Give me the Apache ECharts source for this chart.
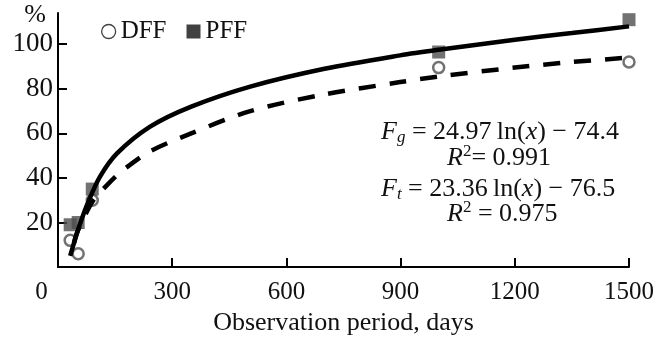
<!DOCTYPE html>
<html>
<head>
<meta charset="utf-8">
<script src="https://cdn.jsdelivr.net/npm/echarts@6/dist/echarts.min.js"></script>
<style>
  html, body { margin: 0; padding: 0; background: #fff; }
  #chart { width: 662px; height: 341px; }
</style>
</head>
<body>
<div id="chart"></div>
<script>
// values
const xTicks = [0, 300, 600, 900, 1200, 1500]
const yTicks = [20, 40, 60, 80, 100]

// [days, %]
const dffPoints = [[32, 12], [53, 6], [90, 30], [1000, 89.5], [1500, 92]]
const pffPoints = [[32, 19], [53, 20], [90, 35], [1000, 96.5], [1500, 111]]

// trend curves as traced on the picture
const pffFit = [[32, 5], [45, 12.5], [58, 19.5], [80, 29.5], [110, 40.5], [155, 51], [242, 63],
  [350, 72], [505, 81], [700, 89], [899, 95], [1000, 97.5], [1200, 102], [1350, 105], [1500, 108]]
const dffFit = [[42, 11], [50, 15.5], [72, 23.5], [93, 30], [130, 37], [160, 42], [190, 46],
  [242, 52], [350, 60], [505, 70], [700, 77.5], [899, 83], [1000, 85.5], [1200, 89.5], [1350, 92], [1500, 94]]

const equations = [
  '{i|F}{sub|g} = 24.97\u2009ln({i|x}) \u2212 74.4',
  '{i|R}{sup|2}= 0.991',
  '{i|F}{sub|t} = 23.36\u2009ln({i|x}) \u2212 76.5',
  '{i|R}{sup|2} = 0.975',
]

const FONT = '"Liberation Serif", "Times New Roman", serif'
const MARK = '#4f4f4f'

const chart = echarts.init(document.getElementById('chart'), null, { renderer: 'canvas' })

const eqRich = {
  i: { fontStyle: 'italic', fontFamily: FONT, fontSize: 26, color: '#111' },
  sub: { fontStyle: 'italic', fontFamily: FONT, fontSize: 17, lineHeight: 10, padding: [11, 0, 0, 0], color: '#111' },
  sup: { fontFamily: FONT, fontSize: 17, lineHeight: 10, padding: [0, 0, 14, 0], color: '#111' },
}
const eqPos = [[381, 133], [447, 158], [381, 190], [447, 214]]

chart.setOption({
  animation: false,
  textStyle: { fontFamily: FONT, color: '#111' },
  grid: { left: 58, right: 33, top: 13, bottom: 70, containLabel: false },
  legend: {
    left: 96,
    top: 14,
    itemWidth: 14,
    itemHeight: 14,
    itemGap: 20,
    textStyle: { fontFamily: FONT, fontSize: 25, color: '#111' },
    data: [
      { name: 'DFF', icon: 'circle', itemStyle: { color: '#fff', borderColor: '#111', borderWidth: 1.3 } },
      { name: 'PFF', icon: 'rect', itemStyle: { color: '#111', borderWidth: 0 } },
    ],
  },
  xAxis: {
    type: 'value',
    min: xTicks[0],
    max: xTicks[xTicks.length - 1],
    interval: 300,
    name: 'Observation period, days',
    nameLocation: 'middle',
    nameGap: 39,
    nameTextStyle: { fontFamily: FONT, fontSize: 26, color: '#111' },
    axisLine: { lineStyle: { color: '#000', width: 2 } },
    axisTick: { inside: true, length: 9, lineStyle: { color: '#000', width: 2 } },
    axisLabel: {
      margin: 13,
      fontFamily: FONT,
      fontSize: 25,
      color: '#111',
      formatter: (v) => (v === 0 ? '{z|0}' : String(v)),
      rich: { z: { fontFamily: FONT, fontSize: 25, color: '#111', padding: [0, 33, 0, 0] } },
    },
    splitLine: { show: false },
  },
  yAxis: {
    type: 'value',
    min: 0,
    max: 114,
    name: '%',
    nameLocation: 'end',
    nameGap: -2,
    nameTextStyle: { fontFamily: FONT, fontSize: 26, color: '#111', align: 'right', verticalAlign: 'middle', padding: [0, 12, 0, 0] },
    axisLine: { show: true, lineStyle: { color: '#000', width: 2 } },
    axisTick: { show: true, inside: true, length: 9, customValues: yTicks, lineStyle: { color: '#000', width: 2 } },
    axisLabel: { margin: 5, fontFamily: FONT, fontSize: 27, color: '#111', customValues: yTicks },
    splitLine: { show: false },
  },
  series: [
    {
      name: 'DFF',
      type: 'scatter',
      symbol: 'circle',
      symbolSize: 11,
      itemStyle: { color: '#fff', borderColor: MARK, borderWidth: 2.5 },
      data: dffPoints,
      z: 2,
    },
    {
      name: 'PFF',
      type: 'scatter',
      symbol: 'rect',
      symbolSize: 13,
      itemStyle: { color: MARK },
      data: pffPoints,
      z: 2,
    },
    {
      name: 'PFF fit',
      type: 'line',
      smooth: 0.3,
      showSymbol: false,
      lineStyle: { color: '#000', width: 4.5 },
      data: pffFit,
      z: 3,
    },
    {
      name: 'DFF fit',
      type: 'line',
      smooth: 0.3,
      showSymbol: false,
      lineStyle: { color: '#000', width: 4.5, type: [17, 14] },
      data: dffFit,
      z: 3,
    },
  ],
  graphic: equations.map((t, k) => ({
    type: 'text',
    left: eqPos[k][0],
    top: eqPos[k][1] - 15,
    style: {
      text: t,
      font: '26px ' + FONT,
      fill: '#111',
      rich: eqRich,
    },
  })),
})
</script>
</body>
</html>
